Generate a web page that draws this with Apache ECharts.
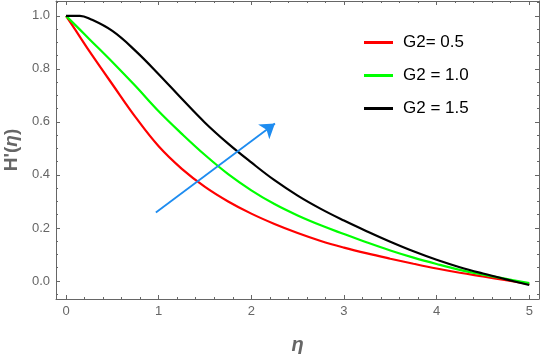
<!DOCTYPE html>
<html>
<head>
<meta charset="utf-8">
<script src="https://cdn.jsdelivr.net/npm/echarts@6/dist/echarts.min.js"></script>
<style>html,body{margin:0;padding:0;background:#fff}#c{width:541px;height:354px}</style>
</head>
<body>
<div id="c"></div>
<script>
// ---- data ----
const eta = [0, 0.15, 0.25, 0.5, 0.75, 1.0, 1.25, 1.5, 1.75, 2.0, 2.25, 2.5, 2.75, 3.0, 3.25, 3.5, 3.75, 4.0, 4.25, 4.5, 4.75, 5.0];
const g05 = [1.0, 0.921, 0.868, 0.742, 0.618, 0.508, 0.423, 0.355, 0.300, 0.254, 0.215, 0.181, 0.151, 0.126, 0.104, 0.084, 0.065, 0.047, 0.031, 0.017, 0.003, -0.012];
const g10 = [1.0, 0.948, 0.913, 0.826, 0.735, 0.64, 0.555, 0.475, 0.403, 0.342, 0.29, 0.247, 0.21, 0.177, 0.145, 0.115, 0.088, 0.064, 0.042, 0.024, 0.008, -0.008];
const g15 = [1.0, 1.0, 0.99, 0.943, 0.868, 0.78, 0.687, 0.597, 0.518, 0.447, 0.380, 0.322, 0.272, 0.228, 0.187, 0.148, 0.112, 0.080, 0.052, 0.028, 0.006, -0.015];
const seriesNames = ['G2= 0.5', 'G2 = 1.0', 'G2 = 1.5'];
const seriesColors = ['#ff0000', '#00ff00', '#000000'];
const arrowStart = [0.97, 0.258];
const arrowEnd = [2.255, 0.594];
const xTickLabels = [0, 1, 2, 3, 4, 5];
const yTickLabels = [0.0, 0.2, 0.4, 0.6, 0.8, 1.0];
const xMin = -0.108, xMax = 5.105, yMin = -0.068, yMax = 1.056;

// minor ticks
const xMinor = [];
for (let i = 1; i <= 24; i++) { if (i % 5 !== 0) xMinor.push(+(i * 0.2).toFixed(2)); }
const yMinor = [];
for (let i = -1; i <= 21; i++) { if (i % 4 !== 0) yMinor.push(+(i * 0.05).toFixed(2)); }

const pairs = (ys) => eta.map((x, i) => [x, ys[i]]);
const frame = '#666666';
const gridBox = { left: 56, right: 2, top: 1, bottom: 55, outerBoundsMode: 'none', containLabel: false };

function xAx(gridIndex, position, ticks, len, withLine, withLabel, extra) {
  return Object.assign({
    type: 'value', gridIndex, position, min: xMin, max: xMax,
    axisLine: { show: withLine, onZero: false, lineStyle: { color: frame, width: 1 } },
    axisTick: { show: true, inside: true, length: len, customValues: ticks, lineStyle: { color: frame, width: 1 } },
    axisLabel: withLabel ? { show: true, customValues: ticks, color: '#666', fontSize: 13, fontFamily: 'Liberation Sans', margin: 6 } : { show: false },
    splitLine: { show: false }
  }, extra || {});
}
function yAx(gridIndex, position, ticks, len, withLine, withLabel, extra) {
  return Object.assign({
    type: 'value', gridIndex, position, min: yMin, max: yMax,
    axisLine: { show: withLine, onZero: false, lineStyle: { color: frame, width: 1 } },
    axisTick: { show: true, inside: true, length: len, customValues: ticks, lineStyle: { color: frame, width: 1 } },
    axisLabel: withLabel ? { show: true, customValues: ticks, color: '#666', fontSize: 13, fontFamily: 'Liberation Sans', margin: 6, formatter: v => v.toFixed(1) } : { show: false },
    splitLine: { show: false }
  }, extra || {});
}

const chart = echarts.init(document.getElementById('c'), null, { renderer: 'canvas' });
chart.setOption({
  animation: false,
  backgroundColor: '#fff',
  grid: [Object.assign({}, gridBox), Object.assign({}, gridBox)],
  xAxis: [
    xAx(0, 'bottom', xTickLabels, 4, true, true, {
      name: 'η', nameLocation: 'middle', nameGap: 36,
      nameTextStyle: { color: '#666', fontSize: 20, fontStyle: 'italic', fontWeight: 'bold', fontFamily: 'Liberation Sans' }
    }),
    xAx(0, 'top', xTickLabels, 4, true, false),
    xAx(1, 'bottom', xMinor, 2, false, false),
    xAx(1, 'top', xMinor, 2, false, false)
  ],
  yAxis: [
    yAx(0, 'left', yTickLabels, 4, true, true, {
      name: "{a|H'(}{b|η}{a|)}", nameLocation: 'middle', nameGap: 35, nameRotate: 90,
      nameTextStyle: {
        rich: {
          a: { color: '#666', fontSize: 19, fontWeight: 'bold', fontFamily: 'Liberation Sans' },
          b: { color: '#666', fontSize: 19, fontWeight: 'bold', fontStyle: 'italic', fontFamily: 'Liberation Sans' }
        }
      }
    }),
    yAx(0, 'right', yTickLabels, 4, true, false),
    yAx(1, 'left', yMinor, 2, false, false),
    yAx(1, 'right', yMinor, 2, false, false)
  ],
  legend: {
    orient: 'vertical', left: 359, top: 29, itemWidth: 29, itemHeight: 3, itemGap: 16,
    icon: 'rect',
    data: seriesNames,
    textStyle: { color: '#000', fontSize: 17, fontFamily: 'Liberation Sans', padding: [0, 0, 0, 5] }
  },
  series: [
    { name: seriesNames[0], type: 'line', xAxisIndex: 0, yAxisIndex: 0, smooth: 0.4, symbol: 'none', data: pairs(g05), lineStyle: { color: seriesColors[0], width: 2.2 }, itemStyle: { color: seriesColors[0] }, z: 3 },
    { name: seriesNames[1], type: 'line', xAxisIndex: 0, yAxisIndex: 0, smooth: 0.4, symbol: 'none', data: pairs(g10), lineStyle: { color: seriesColors[1], width: 2.2 }, itemStyle: { color: seriesColors[1] }, z: 3 },
    { name: seriesNames[2], type: 'line', xAxisIndex: 0, yAxisIndex: 0, smooth: 0.4, symbol: 'none', data: pairs(g15), lineStyle: { color: seriesColors[2], width: 2.2 }, itemStyle: { color: seriesColors[2] }, z: 3 },
    {
      type: 'lines', coordinateSystem: 'cartesian2d', xAxisIndex: 0, yAxisIndex: 0, z: 4,
      symbol: ['none', 'arrow'], symbolSize: 14,
      lineStyle: { color: '#1e8cf0', width: 1.8, opacity: 1, curveness: 0 },
      data: [{ coords: [arrowStart, arrowEnd] }]
    }
  ]
});
</script>
</body>
</html>
